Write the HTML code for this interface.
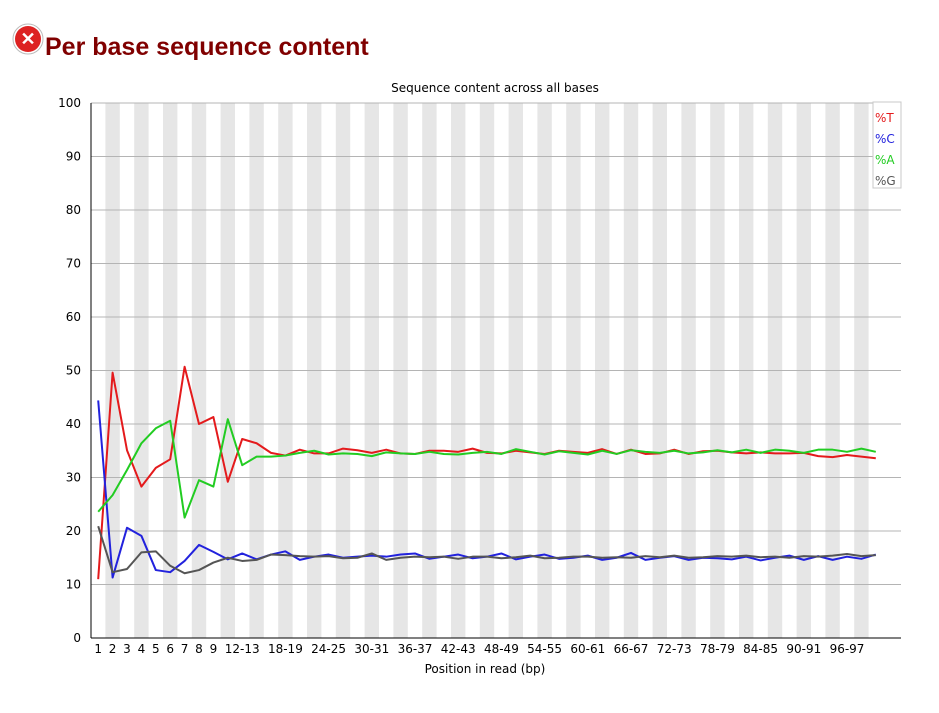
<!DOCTYPE html>
<html><head><meta charset="utf-8"><style>
body{margin:0;background:#fff;width:939px;height:709px;overflow:hidden;font-family:"DejaVu Sans","Liberation Sans",sans-serif}
</style></head><body>
<svg id="chart" width="939" height="709" xmlns="http://www.w3.org/2000/svg">
<g>
<circle cx="28" cy="39" r="15" fill="#fff" stroke="#bbb" stroke-width="1"/>
<circle cx="28" cy="39" r="13" fill="#d22"/>
<text x="28" y="45" text-anchor="middle" fill="#fff" font-size="18" font-weight="bold" font-family="Liberation Sans,sans-serif">✕</text>
<text x="45" y="55" fill="#800000" font-size="25" font-weight="bold" font-family="Liberation Sans,sans-serif">Per base sequence content</text>
</g>
<text x="495" y="92" text-anchor="middle" font-size="12" fill="#000">Sequence content across all bases</text>
<g id="bands"></g><g id="grid"></g><g id="axes"></g><g id="series"></g>
<text x="485" y="673" text-anchor="middle" font-size="12" fill="#000">Position in read (bp)</text>
<g>
<rect x="873" y="102" width="28" height="86" fill="#fff" stroke="#c8c8c8"/>
<text x="875" y="122" font-size="12" fill="#e41a1c">%T</text>
<text x="875" y="143" font-size="12" fill="#2222dd">%C</text>
<text x="875" y="164" font-size="12" fill="#22cc22">%A</text>
<text x="875" y="185" font-size="12" fill="#555">%G</text>
</g>
</svg>
<script>
const categories = ["1","2","3","4","5","6","7","8","9"];
for (let s = 10; s <= 98; s += 2) categories.push(s + "-" + (s + 1));
categories.push("100");
const yTicks = [0,10,20,30,40,50,60,70,80,90,100];
const seriesT = [11.0,49.6,35.1,28.3,31.8,33.4,50.7,40.0,41.3,29.2,37.2,36.4,34.6,34.1,35.2,34.5,34.5,35.4,35.1,34.6,35.2,34.5,34.4,35.0,35.0,34.8,35.4,34.6,34.5,35.0,34.7,34.4,35.0,34.8,34.6,35.3,34.4,35.2,34.4,34.5,35.2,34.4,34.9,35.0,34.7,34.5,34.7,34.5,34.5,34.6,34.0,33.8,34.2,33.9,33.6];
const seriesC = [44.4,11.3,20.6,19.1,12.7,12.3,14.4,17.4,16.1,14.7,15.8,14.7,15.6,16.2,14.6,15.2,15.6,15.0,15.2,15.4,15.2,15.6,15.8,14.8,15.2,15.6,14.9,15.2,15.8,14.7,15.2,15.6,14.8,15.0,15.4,14.6,15.0,15.9,14.6,15.0,15.3,14.6,15.0,14.9,14.7,15.2,14.5,15.0,15.4,14.6,15.3,14.6,15.2,14.8,15.6];
const seriesA = [23.6,26.7,31.4,36.4,39.2,40.6,22.5,29.5,28.3,40.9,32.3,33.9,33.9,34.1,34.6,35.0,34.3,34.5,34.4,34.0,34.7,34.5,34.4,34.8,34.4,34.3,34.6,34.8,34.4,35.3,34.8,34.3,34.9,34.6,34.3,35.0,34.4,35.1,34.8,34.6,35.0,34.5,34.7,35.1,34.7,35.2,34.6,35.2,35.0,34.6,35.2,35.2,34.8,35.4,34.8];
const seriesG = [20.9,12.3,12.9,16.0,16.2,13.5,12.1,12.7,14.1,15.0,14.4,14.6,15.6,15.5,15.3,15.2,15.3,14.9,15.0,15.8,14.6,15.0,15.2,15.1,15.2,14.8,15.2,15.2,14.9,15.1,15.4,14.9,15.0,15.2,15.2,15.0,15.1,15.0,15.3,15.1,15.4,15.0,15.1,15.3,15.2,15.4,15.1,15.2,15.0,15.3,15.2,15.4,15.7,15.3,15.5];
const tickIdx = [0,1,2,3,4,5,6,7,8,10,13,16,19,22,25,28,31,34,37,40,43,46,49,52];

const NS = "http://www.w3.org/2000/svg";
const L = 91, R = 901, T = 103, B = 638, BW = 14.4;
const xPos = i => L + BW * i + BW / 2;
const yPos = v => B - (v / 100) * (B - T);
function mk(tag, attrs, parent) {
  const e = document.createElementNS(NS, tag);
  for (const k in attrs) e.setAttribute(k, attrs[k]);
  parent.appendChild(e); return e;
}
const bands = document.getElementById("bands"), grid = document.getElementById("grid"),
      axes = document.getElementById("axes"), series = document.getElementById("series");
categories.forEach((c, i) => {
  if (i % 2 === 1) {
    const r = mk("rect", {x: L + BW * i, y: T, width: BW, height: B - T, fill: "#e6e6e6"}, bands);
    
    
  }
});
yTicks.forEach(v => {
  if (v > 0) {
    const g = mk("line", {x1: L, x2: R, y1: yPos(v), y2: yPos(v), stroke: "#b4b4b4", "stroke-width": 1}, grid);
    
    
  }
  const t = mk("text", {x: L - 10, y: yPos(v) + 4, "text-anchor": "end", "font-size": 12, fill: "#000"}, axes);
  t.textContent = v;
  
  
});
const yax = mk("line", {x1: L, x2: L, y1: T, y2: B, stroke: "#000"}, axes);


const xax = mk("line", {x1: L, x2: R, y1: B, y2: B, stroke: "#000"}, axes);


tickIdx.forEach(i => {
  const t = mk("text", {x: xPos(i), y: 653, "text-anchor": "middle", "font-size": 12, fill: "#000"}, axes);
  t.textContent = categories[i];
  
  
});
[["t", seriesT, "#e41a1c"], ["c", seriesC, "#2222dd"], ["a", seriesA, "#22cc22"], ["g", seriesG, "#555555"]].forEach(([n, d, col]) => {
  const p = mk("polyline", {points: d.map((v, i) => xPos(i) + "," + yPos(v)).join(" "), fill: "none", stroke: col, "stroke-width": 2, "stroke-linejoin": "round"}, series);
  
  
});
</script>
</body></html>
